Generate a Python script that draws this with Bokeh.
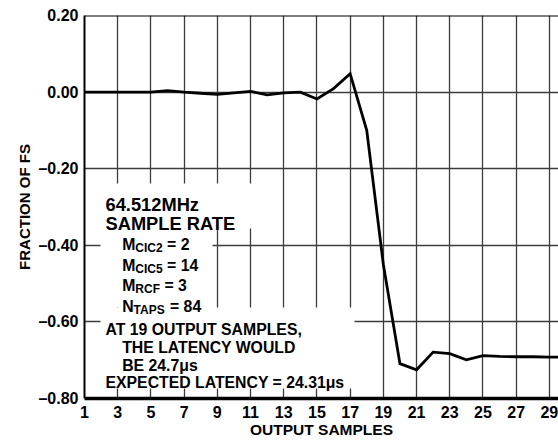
from bokeh.plotting import figure
from bokeh.models import FixedTicker, Label, BoxAnnotation, Span, ColumnDataSource, Range1d
from bokeh.embed import file_html
from bokeh.resources import INLINE

# ---------------- data ----------------
samples = list(range(1, 31))
fraction = [0.0, 0.0, 0.0, 0.0, 0.0, 0.004, 0.0, -0.003, -0.006, -0.002,
            0.002, -0.007, -0.002, 0.0, -0.018, 0.009, 0.048, -0.100, -0.450, -0.709,
            -0.725, -0.679, -0.683, -0.699, -0.688, -0.690, -0.691, -0.691, -0.692, -0.692]
x_ticks = [1, 3, 5, 7, 9, 11, 13, 15, 17, 19, 21, 23, 25, 27, 29]
y_ticks = [-0.8, -0.6, -0.4, -0.2, 0.0, 0.2]
y_tick_labels = ["\u20130.80", "\u20130.60", "\u20130.40", "\u20130.20", "0.00", "0.20"]
x_title = "OUTPUT SAMPLES"
y_title = "FRACTION OF FS"
header_lines = ["64.512MHz", "SAMPLE RATE"]
param_lines = [("M", "CIC2", "= 2"), ("M", "CIC5", "= 14"), ("M", "RCF", "= 3"), ("N", "TAPS", "= 84")]
latency_lines = ["AT 19 OUTPUT SAMPLES,", "THE LATENCY WOULD", "BE 24.7\u03bcs", "EXPECTED LATENCY = 24.31\u03bcs"]

# ---------------- layout ----------------
FONT = "Liberation Sans"
W, H = 558, 442
X0, X1 = 1, 29.55
Y0, Y1 = -0.8, 0.2
FL, FT, FR, FB = 84, 15, 558, 398   # frame edges in canvas pixels

def dx(px):
    return X0 + (px - FL) * (X1 - X0) / (FR - FL)

def dy(py):
    return Y1 - (py - FT) * (Y1 - Y0) / (FB - FT)

# Arial/Helvetica bold advance widths (em)
ADV = {"M": .833, "N": .722, "C": .722, "I": .278, "R": .722, "F": .611, "T": .611,
       "A": .722, "P": .667, "S": .667, "O": .778, " ": .278, "=": .584}
def tw(s, size):
    return sum(ADV.get(c, .556) for c in s) * size

p = figure(width=W, height=H, output_backend="svg", toolbar_location=None,
           x_range=Range1d(X0, X1), y_range=Range1d(Y0, Y1),
           min_border_left=FL, min_border_right=W - FR,
           min_border_top=FT, min_border_bottom=H - FB)
p.outline_line_color = None
p.background_fill_color = "white"

p.xgrid.ticker = FixedTicker(ticks=x_ticks)
p.ygrid.ticker = FixedTicker(ticks=y_ticks)
for g in (p.xgrid, p.ygrid):
    g.grid_line_color = "#3c3c3c"
    g.grid_line_width = 1.3

p.xaxis.ticker = FixedTicker(ticks=x_ticks)
p.yaxis.ticker = FixedTicker(ticks=y_ticks)
p.yaxis.major_label_overrides = dict(zip(y_ticks, y_tick_labels))
for ax in (p.xaxis, p.yaxis):
    ax.major_tick_in = 0
    ax.major_tick_out = 0
    ax.minor_tick_in = 0
    ax.minor_tick_out = 0
    ax.axis_line_color = "black"
    ax.major_label_text_font = FONT
    ax.major_label_text_font_style = "bold"
    ax.major_label_text_font_size = "16px"
    ax.major_label_text_color = "black"
    ax.major_label_standoff = 6
    ax.axis_label_text_font = FONT
    ax.axis_label_text_font_style = "bold"
    ax.axis_label_text_color = "black"
p.xaxis.major_label_standoff = 7
p.xaxis.axis_label = x_title
p.xaxis.axis_label_standoff = 0
p.xaxis.axis_label_text_font_size = "15.5px"
p.yaxis.axis_label = y_title
p.yaxis.axis_label_standoff = 2
p.yaxis.axis_label_text_font_size = "15px"
p.xaxis.axis_line_width = 3.5
p.yaxis.axis_line_width = 2
p.add_layout(Span(location=Y1, dimension="width", line_color="black", line_width=2))

# white boxes behind the annotation text (hide grid)
for (l, r, t, b) in [(100, 265, 183, 228), (100, 212, 228, 307), (100, 354, 307, 388)]:
    p.add_layout(BoxAnnotation(left=dx(l), right=dx(r), top=dy(t), bottom=dy(b),
                               fill_color="white", fill_alpha=1.0, line_color=None, level="glyph"))

src = ColumnDataSource(dict(x=samples, y=fraction))
p.line("x", "y", source=src, line_color="black", line_width=2.8, line_join="miter")

def lab(text, px, py, size):
    p.add_layout(Label(x=dx(px), y=dy(py), text=text, text_font=FONT, text_font_style="bold",
                       text_font_size=f"{size}px", text_color="black", text_align="left",
                       text_baseline="alphabetic"))

for text, py in zip(header_lines, [203.5, 223]):
    lab(text, 105, py, 18.3)

BODY, SUB = 15.8, 12
for (main, sub, rest), py in zip(param_lines, [244, 264.5, 285, 305.5]):
    x = 121.7
    lab(main, x, py, BODY)
    x += tw(main, BODY)
    lab(sub, x, py + 3.5, SUB)
    x += tw(sub, SUB) + tw(" ", BODY)
    lab(rest, x, py, BODY)

for text, px, py in zip(latency_lines, [105, 121.7, 121.7, 105], [328.5, 346.7, 365, 381.7]):
    lab(text, px, py, BODY)

open("out.html", "w").write(file_html(p, INLINE))
